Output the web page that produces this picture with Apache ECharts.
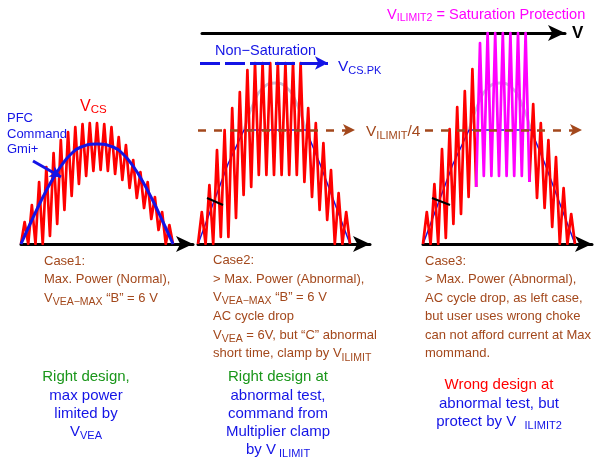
<!DOCTYPE html>
<html><head><meta charset="utf-8">
<script src="https://cdn.jsdelivr.net/npm/echarts@6/dist/echarts.min.js"></script>
<style>html,body{margin:0;padding:0;background:#fff}#c{width:595px;height:458px}</style>
</head><body><div id="c"></div>
<script>
// ---------------- data ----------------
// Case 1: current-sense ripple peaks / valleys over one half AC cycle
const case1Peaks   = [22,39,62,77,91,104,112,117,120,121,121,120,117,107,99,84,72,62,47,32,19];
const case1Valleys = [0,0,0,0,8,20,34,48,60,68,73,74,73,70,64,56,46,36,25,14,0,0];
// Case 1: PFC command (Gmi+) half sine
const case1CmdX = [0,10,20,30,40,50,60,76,92,102,112,122,132,142,152];
const case1CmdY = [0,22,43,62,78,90,97,100,97,90,78,62,43,22,0];

// Case 2: ripple clamped, peaks reach V_CS.PK
const case2Peaks   = [32,59,94,114,136,152,174,181,181,181,181,181,181,181,136,121,101,74,51,32];
const case2Valleys = [0,0,0,7,7,26,49,57,69,69,69,69,69,69,62,47,34,24,0,0,0];

// Case 3: wrong choke – saturating part shown in magenta
const case3Peaks   = [32,60,95,115,137,153,175,201,211,211,211,211,211,211,140,121,104,87,56,30];
const case3Valleys = [0,0,0,6,20,30,47,57,68,68,68,68,68,68,62,46,36,17,0,0,0];
const case3SatFirst = 7;   // first saturated cycle (0-based)
const case3SatLast  = 13;  // last saturated cycle

// Clamped command (blue) and unclamped sine top (gray) for cases 2 & 3
const clampCmdX = [0,15,30,46,108,122,137,152];
const clampCmdY = [0,40,80,114,114,80,40,0];
const sineTopX  = [46,56,66,77,88,98,108];
const sineTopY  = [114,142,157,161,157,142,114];

// Levels
const vCsPk    = 181;   // V_CS.PK
const vIlimit4 = 114;   // V_ILIMIT/4
const halfCycle = 152;  // length of the half AC cycle on each time axis

// ---------------- helpers ----------------
const F = '"Liberation Sans", Arial, Helvetica, sans-serif';
const RED = '#ff0000', MAG = '#ff00ff', BLUE = '#1414e6', BROWN = '#a3481c', GREEN = '#1a961a', GRAY = '#c4c4d6';

function zigzag(peaks, valleys, span) {
  const n = peaks.length, h = span / (2 * n), pts = [];
  for (let i = 0; i < n; i++) {
    pts.push([2 * i * h, valleys[i]]);
    pts.push([(2 * i + 1) * h, peaks[i]]);
  }
  pts.push([2 * n * h, valleys[n]]);
  return pts;
}
const zip = (xs, ys) => xs.map((x, i) => [x, ys[i]]);

function line(gi, data, color, width, extra) {
  return Object.assign({
    type: 'line', xAxisIndex: gi, yAxisIndex: gi, data: data,
    showSymbol: false, symbol: 'none', silent: true, animation: false,
    lineStyle: { color: color, width: width, join: 'round' }
  }, extra || {});
}
function arrowLine(from, to, color, width, dash, size) {
  return {
    silent: true, animation: false,
    symbol: ['none', 'arrow'], symbolSize: size,
    label: { show: false },
    lineStyle: { color: color, width: width, type: dash || 'solid' },
    emphasis: { disabled: true },
    data: [[{ coord: from }, { coord: to }]]
  };
}

const c1 = zigzag(case1Peaks, case1Valleys, halfCycle);
const c2 = zigzag(case2Peaks, case2Valleys, halfCycle);
const c3 = zigzag(case3Peaks, case3Valleys, halfCycle);
const c3LeftRed  = c3.slice(0, 2 * case3SatFirst + 1);
const c3Sat      = c3.slice(2 * case3SatFirst, 2 * (case3SatLast + 1) + 1);
const c3RightRed = c3.slice(2 * (case3SatLast + 1));

// ---------------- layout ----------------
const panels = [
  { left: 21,  width: 172 },
  { left: 198, width: 172 },
  { left: 423, width: 169 }
];
const grids = panels.map(p => ({ left: p.left, width: p.width, top: 24, height: 220 }));
grids.push({ left: 202, width: 363, top: 33, height: 10 });   // top "V" axis

const xAxes = panels.map((p, i) => ({
  type: 'value', gridIndex: i, min: 0, max: p.width,
  axisLine: { show: true, onZero: false, symbol: ['none', 'arrow'], symbolSize: [12, 17],
              lineStyle: { color: '#000', width: 3 } },
  axisTick: { show: false }, axisLabel: { show: false }, splitLine: { show: false }
}));
xAxes.push({
  type: 'value', gridIndex: 3, min: 0, max: 1, position: 'top',
  name: 'V', nameLocation: 'end', nameGap: 7,
  nameTextStyle: { color: '#000', fontSize: 17, fontWeight: 'bold', fontFamily: F, verticalAlign: 'middle' },
  axisLine: { show: true, onZero: false, symbol: ['none', 'arrow'], symbolSize: [12, 17], lineStyle: { color: '#000', width: 3 } },
  axisTick: { show: false }, axisLabel: { show: false }, splitLine: { show: false }
});
const yAxes = [0, 1, 2, 3].map(i => ({
  type: 'value', gridIndex: i, min: 0, max: i < 3 ? 220 : 1, show: false
}));

const W = 2.7;
const series = [
  // Case 1
  line(0, c1, RED, W, { z: 2 }),
  line(0, zip(case1CmdX, case1CmdY), BLUE, 3, { z: 3, smooth: true,
    markLine: arrowLine([12, 83], [40, 67], BLUE, 3, 'solid', [9, 11]) }),
  // Case 2
  line(1, zip(sineTopX, sineTopY), GRAY, 2.8, { z: 1, smooth: true }),
  line(1, zip(clampCmdX, clampCmdY), BLUE, 1.5, { z: 2 }),
  line(1, c2, RED, W, { z: 3,
    markLine: arrowLine([2, vCsPk], [130, vCsPk], BLUE, 3, [20, 5], [10, 13]) }),
  line(1, [[9, 46], [25, 39]], '#000', 2, { z: 4,
    markLine: arrowLine([0, vIlimit4], [157, vIlimit4], BROWN, 2.5, [8, 8], [9, 12]) }),
  // Case 3
  line(2, zip(sineTopX, sineTopY), GRAY, 2.8, { z: 1, smooth: true }),
  line(2, zip(clampCmdX, clampCmdY), BLUE, 1.5, { z: 2 }),
  line(2, c3LeftRed, RED, W, { z: 3 }),
  line(2, c3RightRed, RED, W, { z: 3 }),
  line(2, c3Sat, MAG, W, { z: 3 }),
  line(2, [[9, 46], [27, 39]], '#000', 2, { z: 4,
    markLine: arrowLine([2, vIlimit4], [159, vIlimit4], BROWN, 2.5, [8, 8], [9, 12]) })
];

// ---------------- texts ----------------
function richSet(size, subSize) {
  const r = {};
  [['r', RED], ['b', BLUE], ['g', GREEN], ['o', BROWN], ['m', MAG]].forEach(([k, c]) => {
    r[k] = { fontSize: size, fontFamily: F, fill: c };
    r[k + 's'] = { fontSize: subSize, fontFamily: F, fill: c, verticalAlign: 'bottom' };
  });
  return r;
}
function txt(x, y, text, fill, size, lh, subSize, align) {
  align = align || 'left';
  return {
    type: 'text', x: x, y: y, silent: true,
    style: {
      text: text, fill: fill, fontSize: size, fontFamily: F, lineHeight: lh,
      align: align, verticalAlign: 'top', textAlign: align, textVerticalAlign: 'top',
      rich: richSet(size, subSize)
    }
  };
}

const graphics = [
  txt(80, 98, '{r|V}{rs|CS}', RED, 16, 18, 11.5),
  txt(7, 111, 'PFC\nCommand\nGmi+', BLUE, 13, 15.5, 10),
  txt(215, 42, 'Non\u2212Saturation', BLUE, 14.5, 17, 10),
  txt(338, 58, '{b|V}{bs|CS.PK}', BLUE, 15.5, 18, 11),
  txt(366, 123, '{o|V}{os|ILIMIT}{o|/4}', BROWN, 15.5, 18, 11),
  txt(387, 6, '{m|V}{ms|ILIMIT2}{m| = Saturation Protection}', MAG, 14.6, 18, 10.5),

  txt(44, 252, 'Case1:\nMax. Power (Normal),\n{o|V}{os|VEA\u2212MAX}{o| \u201CB\u201D = 6 V}', BROWN, 13, 18.5, 10.5),
  txt(213, 251, 'Case2:\n> Max. Power (Abnormal),\n{o|V}{os|VEA\u2212MAX}{o| \u201CB\u201D = 6 V}\nAC cycle drop\n{o|V}{os|VEA}{o| = 6V, but \u201CC\u201D abnormal}\n{o|short time, clamp by V}{os|ILIMIT}', BROWN, 13, 18.7, 10.5),
  txt(425, 252, 'Case3:\n> Max. Power (Abnormal),\nAC cycle drop, as left case,\nbut user uses wrong choke\ncan not afford current at Max\nmommand.', BROWN, 13, 18.5, 10.5),

  txt(86, 368, '{g|Right design,}\n{b|max power}\n{b|limited by}\n{b|V}{bs|VEA}', BLUE, 15, 18.3, 11, 'center'),
  txt(278, 368, '{g|Right design at}\n{b|abnormal test,}\n{b|command from}\n{b|Multiplier clamp}\n{b|by V}{bs| ILIMIT}', BLUE, 15, 18.3, 11, 'center'),
  txt(499, 376, '{r|Wrong design at}\n{b|abnormal test, but}\n{b|protect by V  }{bs|ILIMIT2}', BLUE, 15, 18.5, 11, 'center')
];

const chart = echarts.init(document.getElementById('c'), null, { renderer: 'canvas' });
chart.setOption({
  backgroundColor: '#fff',
  animation: false,
  grid: grids,
  xAxis: xAxes,
  yAxis: yAxes,
  series: series,
  graphic: graphics
});
</script>
</body></html>
